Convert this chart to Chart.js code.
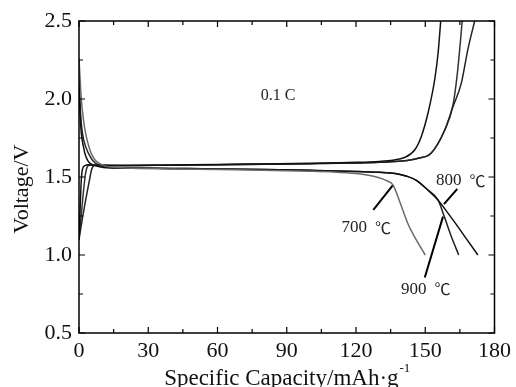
<!DOCTYPE html>
<html>
<head>
<meta charset="utf-8">
<script src="https://cdn.jsdelivr.net/npm/chart.js@4"></script>
<style>
html, body { margin: 0; padding: 0; background: #fff; }
</style>
</head>
<body>
<canvas id="voltageChart" width="516" height="387"></canvas>
<script>
// discharge curves (capacity mAh/g, voltage V)
var cap700Dis  = [0, 1, 2, 3, 4.6, 6, 7.5, 10, 13, 20, 40, 60, 80, 100, 110, 120, 126, 130, 133, 136, 139, 142.5, 146, 150];
var volt700Dis = [2.26, 2.0, 1.86, 1.77, 1.68, 1.63, 1.6, 1.578, 1.565, 1.558, 1.552, 1.548, 1.543, 1.537, 1.532, 1.522, 1.51, 1.495, 1.478, 1.45, 1.34, 1.2, 1.1, 1.0];

var cap800Dis  = [0, 0.5, 1, 2, 2.5, 4, 6.1, 9, 12, 20, 40, 60, 80, 100, 120, 130, 137, 142, 146, 151, 155.5, 160, 164.2, 168, 172.8];
var volt800Dis = [2.1, 1.9, 1.78, 1.69, 1.654, 1.6, 1.578, 1.566, 1.56, 1.558, 1.555, 1.552, 1.548, 1.543, 1.536, 1.53, 1.522, 1.505, 1.48, 1.418, 1.353, 1.265, 1.18, 1.1, 1.0];

var cap900Dis  = [0, 0.7, 1.5, 3, 5.3, 7, 9.1, 12, 20, 40, 60, 80, 100, 120, 130, 137, 142, 146, 151, 155.5, 158.4, 161, 164.5];
var volt900Dis = [2.15, 1.9, 1.78, 1.69, 1.62, 1.59, 1.574, 1.563, 1.558, 1.555, 1.552, 1.548, 1.543, 1.536, 1.53, 1.522, 1.505, 1.48, 1.418, 1.353, 1.24, 1.13, 1.0];

// charge curves
var cap700Chg  = [0, 0.5, 1, 1.5, 2.5, 4, 8, 20, 40, 60, 80, 100, 120, 130, 136, 141, 145.5, 148.3, 151.2, 154.1, 155.6, 156.7];
var volt700Chg = [1.1, 1.3, 1.485, 1.55, 1.572, 1.578, 1.575, 1.574, 1.577, 1.58, 1.584, 1.588, 1.594, 1.6, 1.608, 1.625, 1.675, 1.76, 1.91, 2.125, 2.3, 2.5];

var cap900Chg  = [0, 1, 2.5, 3.2, 4.5, 8, 20, 40, 60, 80, 100, 120, 130, 140, 147, 152.6, 158.4, 162, 163.8, 165, 166];
var volt900Chg = [1.1, 1.26, 1.485, 1.55, 1.575, 1.575, 1.574, 1.576, 1.578, 1.581, 1.585, 1.59, 1.594, 1.602, 1.62, 1.654, 1.8, 1.96, 2.15, 2.33, 2.5];

var cap800Chg  = [0, 2, 4.6, 5.5, 7, 10, 20, 40, 60, 80, 100, 120, 130, 140, 147, 152.6, 158.4, 162, 165.6, 168.5, 171.4];
var volt800Chg = [1.1, 1.28, 1.485, 1.55, 1.575, 1.575, 1.574, 1.576, 1.578, 1.581, 1.585, 1.59, 1.594, 1.602, 1.62, 1.654, 1.8, 1.95, 2.1, 2.32, 2.5];

// label leader lines
var lead700X = [127.5, 136.1], lead700Y = [1.289, 1.45];
var lead800X = [158.1, 163.9], lead800Y = [1.326, 1.424];
var lead900X = [149.8, 157.7], lead900Y = [0.856, 1.246];

// axis ticks
var xTicks = [0, 30, 60, 90, 120, 150, 180];
var yTicks = [0.5, 1.0, 1.5, 2.0, 2.5];

// text notes: [text, unit, x, y]
var notes = [
    ["0.1 C", "", 78.7, 2.018],
    ["800", "\u2103", 154.7, 1.477],
    ["700", "\u2103", 113.7, 1.173],
    ["900", "\u2103", 139.5, 0.781]
];

var serif = "'Liberation Serif', 'Times New Roman', serif";
var cjk = "'Noto Sans CJK SC', 'Noto Sans CJK JP', sans-serif";

function pts(xs, ys) {
    var out = [];
    for (var i = 0; i < xs.length; i++) out.push({x: xs[i], y: ys[i]});
    return out;
}

function curve(label, xs, ys, color) {
    return {
        label: label,
        data: pts(xs, ys),
        borderColor: color,
        borderWidth: 1.5,
        pointRadius: 0,
        fill: false,
        cubicInterpolationMode: 'monotone'
    };
}

function leader(xs, ys) {
    return {
        label: 'leader',
        data: pts(xs, ys),
        borderColor: '#000',
        borderWidth: 2,
        pointRadius: 0,
        fill: false,
        tension: 0
    };
}

var framePlugin = {
    id: 'frame',
    afterDraw: function(chart) {
        var ctx = chart.ctx, a = chart.chartArea;
        var xs = chart.scales.x, ys = chart.scales.y;
        ctx.save();
        ctx.strokeStyle = '#000';
        ctx.lineWidth = 1.5;
        ctx.strokeRect(a.left, a.top, a.right - a.left, a.bottom - a.top);

        ctx.lineWidth = 1.2;
        ctx.beginPath();
        for (var v = 0; v <= 180; v += 15) {
            var px = xs.getPixelForValue(v);
            var len = (v % 30 === 0) ? 6 : 4;
            ctx.moveTo(px, a.bottom); ctx.lineTo(px, a.bottom - len);
            ctx.moveTo(px, a.top); ctx.lineTo(px, a.top + len);
        }
        for (var k = 0; k <= 8; k++) {
            var val = 0.5 + k * 0.25;
            var py = ys.getPixelForValue(val);
            var l2 = (k % 2 === 0) ? 6 : 4;
            ctx.moveTo(a.left, py); ctx.lineTo(a.left + l2, py);
            ctx.moveTo(a.right, py); ctx.lineTo(a.right - l2, py);
        }
        ctx.stroke();

        // notes
        ctx.fillStyle = '#222';
        ctx.textBaseline = 'middle';
        ctx.textAlign = 'left';
        notes.forEach(function(n) {
            var nx = xs.getPixelForValue(n[2]), ny = ys.getPixelForValue(n[3]);
            ctx.font = (n[1] ? "17px " : "16px ") + serif;
            ctx.fillText(n[0], nx, ny);
            if (n[1]) {
                var w = ctx.measureText(n[0]).width;
                ctx.font = "16px " + cjk;
                ctx.fillText(n[1], nx + w + 8, ny);
            }
        });

        // x title with superscript
        ctx.fillStyle = '#111';
        ctx.textBaseline = 'alphabetic';
        ctx.font = "23px " + serif;
        var main = "Specific Capacity/mAh\u00b7g";
        var w1 = ctx.measureText(main).width;
        ctx.font = "13px " + serif;
        var w2 = ctx.measureText("-1").width;
        var cx = (a.left + a.right) / 2;
        var x0 = cx - (w1 + w2) / 2;
        ctx.font = "23px " + serif;
        ctx.fillText(main, x0, 385);
        ctx.font = "13px " + serif;
        ctx.fillText("-1", x0 + w1 + 1, 372);

        // y title
        ctx.font = "22px " + serif;
        ctx.translate(28, 189);
        ctx.rotate(-Math.PI / 2);
        ctx.textAlign = 'center';
        ctx.fillText("Voltage/V", 0, 0);
        ctx.restore();
    }
};

var ctx = document.getElementById('voltageChart');

var voltageChart = new Chart(ctx, {
    type: 'line',
    data: {
        datasets: [
            curve('700 discharge', cap700Dis, volt700Dis, '#6a6a6a'),
            curve('800 discharge', cap800Dis, volt800Dis, '#111'),
            curve('900 discharge', cap900Dis, volt900Dis, '#222'),
            curve('700 charge', cap700Chg, volt700Chg, '#111'),
            curve('800 charge', cap800Chg, volt800Chg, '#222'),
            curve('900 charge', cap900Chg, volt900Chg, '#333'),
            leader(lead700X, lead700Y),
            leader(lead800X, lead800Y),
            leader(lead900X, lead900Y)
        ]
    },
    options: {
        responsive: false,
        animation: false,
        events: [],
        layout: { padding: { top: 21, right: 19, left: 0, bottom: 0 } },
        plugins: {
            legend: { display: false },
            tooltip: { enabled: false }
        },
        scales: {
            x: {
                type: 'linear',
                min: 0,
                max: 180,
                afterBuildTicks: function(s) { s.ticks = xTicks.map(function(v) { return {value: v}; }); },
                afterFit: function(s) { s.height = 54; },
                grid: { display: false, drawTicks: false },
                border: { display: false },
                ticks: { color: '#111', padding: 5, maxRotation: 0, font: { family: serif, size: 22 } }
            },
            y: {
                type: 'linear',
                min: 0.5,
                max: 2.5,
                afterBuildTicks: function(s) { s.ticks = yTicks.map(function(v) { return {value: v}; }); },
                afterFit: function(s) { s.width = 79; },
                grid: { display: false, drawTicks: false },
                border: { display: false },
                ticks: {
                    color: '#111',
                    padding: 7,
                    font: { family: serif, size: 22 },
                    callback: function(v) { return Number(v).toFixed(1); }
                }
            }
        }
    },
    plugins: [framePlugin]
});
</script>
</body>
</html>
